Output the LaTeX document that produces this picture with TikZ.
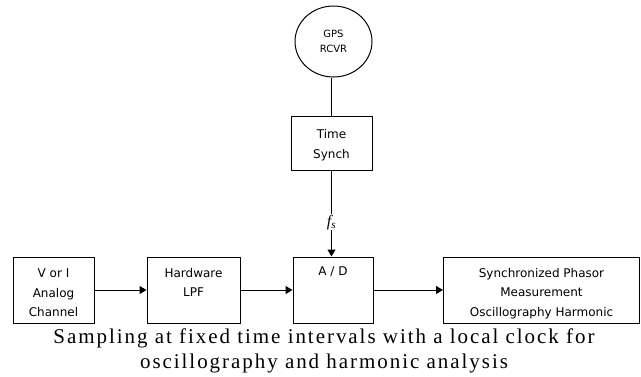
\documentclass[tikz,border=0pt]{standalone}
\usepackage{fontspec}
\setmainfont{Liberation Serif}
\newfontfamily\boxfont{DejaVu Sans}
\newfontfamily\capfont[LetterSpace=9.3]{Liberation Serif}
\usetikzlibrary{arrows.meta,shapes.geometric}
\begin{document}
\begin{tikzpicture}[x=1pt,y=-1pt,
  box/.style={draw=black, line width=1pt, rectangle, inner sep=0pt},
  txt/.style={font=\boxfont\fontsize{12}{19.5}\selectfont, align=center, inner sep=0pt},
  conn/.style={line width=1pt, -{Triangle[length=7pt,width=8pt]}},
  plainline/.style={line width=1pt}
]
\useasboundingbox[fill=white] (0,0) rectangle (641,376);
% GPS receiver
\node[draw, ellipse, line width=1pt, minimum width=77pt, minimum height=71pt, inner sep=0pt] (gps) at (333.5,41.5) {};
\node[font=\boxfont\fontsize{10}{15}\selectfont, align=center, inner sep=0pt] (gpst) at (333.5,41) {GPS\\RCVR};
% boxes
\node[box, minimum width=81pt, minimum height=54pt] (ts) at (331.5,143) {};
\node[txt] (tst) at (331.5,145) {Time\\Synch};
\node[box, minimum width=81pt, minimum height=66pt] (b1) at (53.5,290) {};
\node[txt] (b1t) at (53.5,293) {V or I\\Analog\\Channel};
\node[box, minimum width=93pt, minimum height=66pt] (b2) at (193.5,290) {};
\node[txt] (b2t) at (193.5,282.5) {Hardware\\LPF};
\node[box, minimum width=80pt, minimum height=66pt] (ad) at (333,290) {};
\node[txt] (adt) at (333,272) {A / D};
\node[box, minimum width=196pt, minimum height=66pt] (b4) at (541.5,290) {};
\node[txt] (b4t) at (541.5,293.5) {Synchronized Phasor\\Measurement\\Oscillography Harmonic};
% connectors
\draw[plainline] (ts.north) -- (ts.north |- gps.south);
\draw[conn] (ts.south) -- (ts.south |- ad.north)
  node[pos=0.6, fill=white, inner sep=1pt, font=\fontsize{16}{16}\selectfont\itshape] (fs) {f\textsubscript{s}};
\draw[conn] (b1.east) -- (b2.west);
\draw[conn] (b2.east) -- (ad.west);
\draw[conn] (ad.east) -- (b4.west);
% caption
\node[font=\capfont\fontsize{21}{25}\selectfont, align=center, inner sep=0pt] (cap) at (324,350.6)
  {Sampling at fixed time intervals with a local clock for\\oscillography and harmonic analysis};
\end{tikzpicture}
\end{document}
